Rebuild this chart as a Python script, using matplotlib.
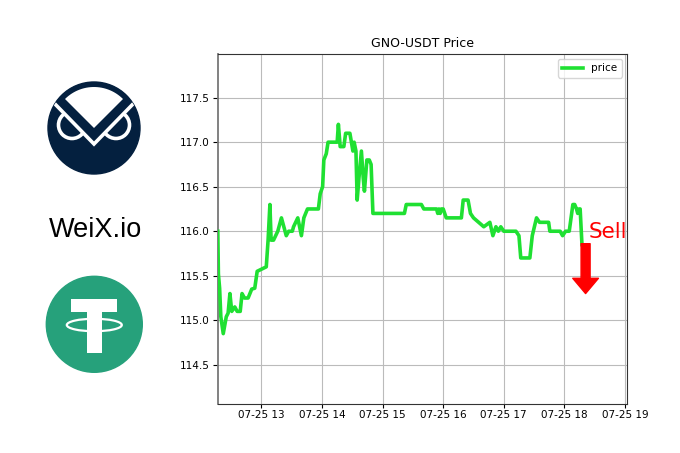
import numpy as np
import pandas as pd
import matplotlib
matplotlib.use('Agg')
import matplotlib.pyplot as plt
import matplotlib.dates as mdates
from matplotlib.patches import Circle, Ellipse, Polygon, Rectangle

# hours on 07-25 and price
hours = [12.28, 12.29, 12.31, 12.33, 12.37, 12.42, 12.45, 12.48, 12.51, 12.56, 12.60, 12.65,
         12.68, 12.72, 12.78, 12.84, 12.89, 12.93, 13.08, 13.11, 13.14, 13.16, 13.20, 13.27,
         13.33, 13.41, 13.45, 13.51, 13.53, 13.60, 13.66, 13.70, 13.76, 13.94, 13.97, 14.01,
         14.03, 14.07, 14.10, 14.25, 14.27, 14.30, 14.36, 14.39, 14.46, 14.51, 14.53, 14.56,
         14.58, 14.61, 14.65, 14.68, 14.70, 14.74, 14.78, 14.81, 14.84, 15.36, 15.39, 15.64,
         15.68, 15.89, 15.91, 15.93, 15.95, 15.97, 16.00, 16.05, 16.30, 16.33, 16.41, 16.45,
         16.50, 16.67, 16.77, 16.82, 16.87, 16.91, 16.95, 17.00, 17.20, 17.25, 17.28, 17.43,
         17.47, 17.54, 17.59, 17.74, 17.76, 17.93, 17.97, 18.02, 18.08, 18.14, 18.17, 18.20,
         18.22, 18.24, 18.26, 18.29]
prices = [116.0, 115.52, 115.36, 115.04, 114.85, 115.04, 115.08, 115.3, 115.1, 115.15, 115.1, 115.1,
          115.3, 115.25, 115.25, 115.35, 115.36, 115.55, 115.6, 115.9, 116.3, 115.9, 115.9, 116.0,
          116.15, 115.95, 116.0, 116.0, 116.05, 116.15, 115.95, 116.15, 116.25, 116.25, 116.42, 116.5,
          116.8, 116.87, 117.0, 117.0, 117.2, 116.95, 116.95, 117.1, 117.1, 116.9, 117.0, 116.9,
          116.35, 116.6, 116.9, 116.6, 116.45, 116.8, 116.8, 116.75, 116.2, 116.2, 116.3, 116.3,
          116.25, 116.25, 116.2, 116.25, 116.2, 116.25, 116.25, 116.15, 116.15, 116.35, 116.35, 116.2,
          116.15, 116.05, 116.1, 115.95, 116.05, 116.0, 116.05, 116.0, 116.0, 115.95, 115.7, 115.7,
          115.95, 116.15, 116.1, 116.1, 116.0, 116.0, 115.95, 116.0, 116.0, 116.3, 116.3, 116.25,
          116.2, 116.25, 116.25, 115.85]
times = pd.Timestamp('2021-07-25') + pd.to_timedelta(hours, unit='h')

fig = plt.figure(figsize=(6.8, 4.53), dpi=100)
ax = fig.add_axes([218 / 680, 1 - 404 / 453, (627 - 218) / 680, (404 - 54) / 453])
ax.plot(times, prices, color='#1fe032', lw=2.6, label='price', zorder=3)
ax.set_title('GNO-USDT Price', fontsize=9, pad=5)
ax.set_ylim(114.06, 117.99)
ax.set_xlim(pd.Timestamp('2021-07-25 12:17'), pd.Timestamp('2021-07-25 19:02'))
ax.xaxis.set_major_locator(mdates.HourLocator())
ax.xaxis.set_major_formatter(mdates.DateFormatter('%m-%d %H'))
ax.set_yticks([114.5, 115, 115.5, 116, 116.5, 117, 117.5])
ax.tick_params(labelsize=7.5)
ax.tick_params(axis='x', length=3, pad=1.5)
ax.tick_params(axis='y', pad=2.5)
ax.grid(True, color='#bbbbbb')
for s in ax.spines.values():
    s.set_color('#333333')
ax.spines['left'].set_color('#777777')
ax.spines['left'].set_linewidth(1.3)
ax.legend(loc='upper right', fontsize=7.5)

ax.text(pd.Timestamp('2021-07-25 18:24'), 115.92, 'Sell', color='red', fontsize=15.5, zorder=5)
ax.annotate('', xy=(pd.Timestamp('2021-07-25 18:21'), 115.3),
            xytext=(pd.Timestamp('2021-07-25 18:21'), 115.86),
            arrowprops=dict(width=6.5, headwidth=18.5, headlength=11, color='red', shrink=0), zorder=5)

# logos drawn on an overlay in pixel coordinates
logo = fig.add_axes([0, 0, 1, 1], facecolor='none')
logo.set_xlim(0, 680)
logo.set_ylim(453, 0)
logo.axis('off')

navy = '#04203f'
cx, cy, r = 94, 128, 46
disc = Circle((cx, cy), r, color=navy)
logo.add_patch(disc)
for ex in (72, 116):
    ring = Circle((ex, 125), 13.5, fill=False, ec='white', lw=2.6)
    logo.add_patch(ring)
    ring.set_clip_path(disc)
gap = Polygon([(54, 103), (94, 143), (134, 103), (140, 60), (48, 60)], color=navy)
logo.add_patch(gap)
gap.set_clip_path(disc)
vee = logo.plot([55, 94, 133], [104, 144, 104], color='white', lw=2.6, solid_joinstyle='miter')[0]
vee.set_clip_path(disc)
arc = np.linspace(np.pi * 1.25, np.pi * 1.75, 30)
fan = [(cx + 41 * np.cos(a), cy + 41 * np.sin(a)) for a in arc] + [(94, 128)]
logo.add_patch(Polygon(fan, color='white', lw=0))

logo.text(95.5, 237, 'WeiX.io', family='Liberation Sans', fontsize=19.5, ha='center', color='black')

green = '#26a17b'
logo.add_patch(Circle((94.3, 324.3), 48, color=green))
logo.add_patch(Ellipse((94.3, 325), 55, 12.5, fill=False, ec='white', lw=1.6))
logo.add_patch(Rectangle((71, 299.3), 46.3, 12.4, color='white', lw=0))
logo.add_patch(Rectangle((87.3, 311), 14.4, 42.3, color='white', lw=0))

fig.savefig('out.png', dpi=100)
